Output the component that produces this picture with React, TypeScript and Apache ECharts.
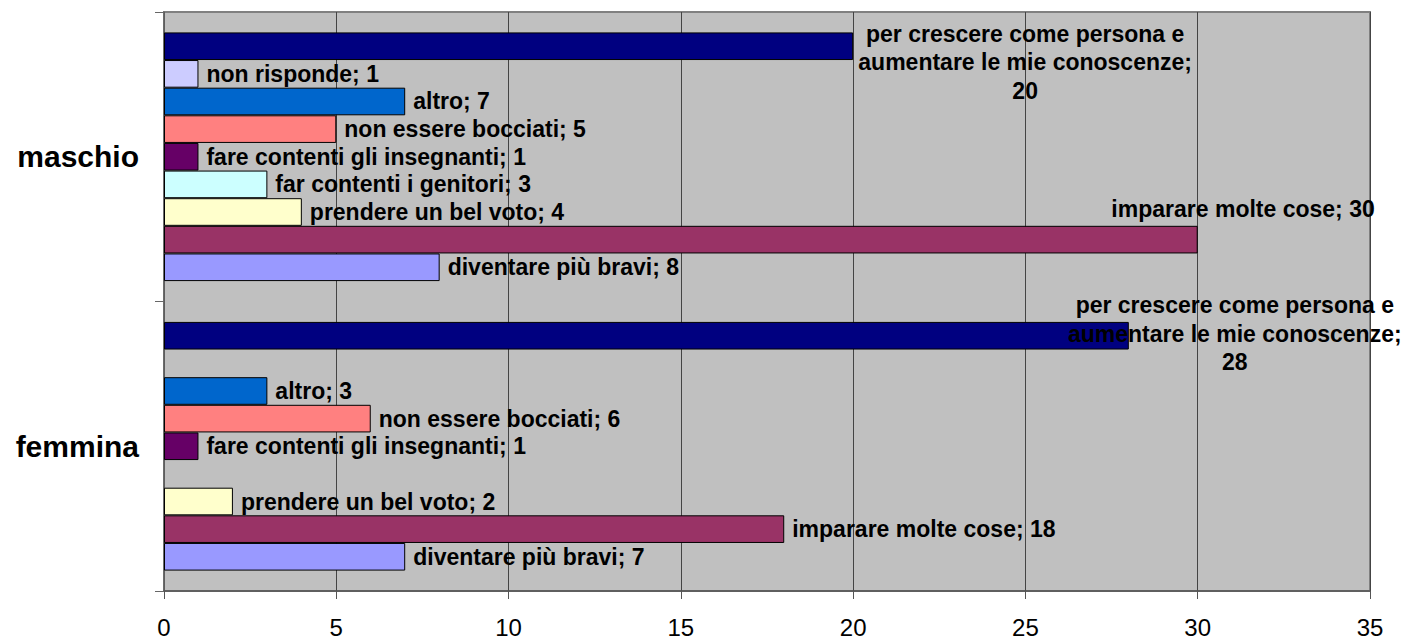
import React, { useEffect, useRef } from "react";
import * as echarts from "echarts";

const categories = ["femmina", "maschio"];
const seriesNames = [
  "diventare più bravi",
  "imparare molte cose",
  "prendere un bel voto",
  "far contenti i genitori",
  "fare contenti gli insegnanti",
  "non essere bocciati",
  "altro",
  "non risponde",
  "per crescere come persona e aumentare le mie conoscenze",
];
const femminaValues: (number | null)[] = [7, 18, 2, null, 1, 6, 3, null, 28];
const maschioValues: (number | null)[] = [8, 30, 4, 3, 1, 5, 7, 1, 20];
const colors = [
  "#9999FF",
  "#993366",
  "#FFFFCC",
  "#CCFFFF",
  "#660066",
  "#FF8080",
  "#0066CC",
  "#CCCCFF",
  "#000080",
];
const xTicks = [0, 5, 10, 15, 20, 25, 30, 35];

const FONT = 'Arial, "Liberation Sans", sans-serif';

// special label placements (series index, category index) -> label overrides
const specialLabels: Record<string, any> = {
  "8-1": { align: "center", offset: [164, 16] },
  "8-0": { align: "center", offset: [98, -2] },
  "1-1": { align: "right", offset: [169, -31] },
};

function labelText(name: string, value: number) {
  if (name.indexOf(" aumentare") >= 0) {
    return name.replace(" aumentare", "\naumentare") + ";\n" + value;
  }
  return name + "; " + value;
}

export default function App() {
  const ref = useRef<HTMLDivElement>(null);

  useEffect(() => {
    if (!ref.current) return;
    const chart = echarts.init(ref.current, undefined, { renderer: "svg" });

    // ECharts places horizontal bar series top-down, so add them in reverse
    const order = seriesNames.map((_, i) => seriesNames.length - 1 - i);
    const series = order.map((si) => {
      const name = seriesNames[si];
      const vals = [femminaValues[si], maschioValues[si]];
      return {
        type: "bar",
        name,
        barGap: "0%",
        barCategoryGap: "14.1%",
        itemStyle: { color: colors[si], borderColor: "#000", borderWidth: 1 },
        label: {
          show: true,
          position: "right",
          distance: 8,
          fontFamily: FONT,
          fontSize: 23,
          fontWeight: "bold",
          color: "#000",
          lineHeight: 28.5,
          formatter: (p: any) => labelText(p.seriesName, p.value),
        },
        data: vals.map((v, ci) => {
          if (v === null) return "-";
          const sp = specialLabels[si + "-" + ci];
          return sp ? { value: v, label: sp } : v;
        }),
      };
    });

    chart.setOption({
      animation: false,
      grid: {
        left: 164,
        right: 37,
        top: 12,
        bottom: 47,
        show: true,
        backgroundColor: "#C0C0C0",
        borderColor: "#808080",
        borderWidth: 2,
      },
      xAxis: {
        type: "value",
        min: xTicks[0],
        max: xTicks[xTicks.length - 1],
        interval: 5,
        axisLine: { show: true, lineStyle: { color: "#555", width: 1.5 } },
        axisTick: { show: true, length: 8, lineStyle: { color: "#555" } },
        splitLine: { show: true, lineStyle: { color: "#444", width: 1 } },
        axisLabel: {
          fontFamily: FONT,
          fontSize: 24,
          color: "#000",
          margin: 24,
        },
      },
      yAxis: {
        type: "category",
        data: categories,
        axisLine: { show: true, lineStyle: { color: "#666", width: 1.5 } },
        axisTick: { show: true, length: 9, lineStyle: { color: "#666" } },
        axisLabel: {
          fontFamily: FONT,
          fontSize: 30,
          fontWeight: "bold",
          color: "#000",
          margin: 25,
        },
      },
      series,
    });

    return () => chart.dispose();
  }, []);

  return (
    <div
      ref={ref}
      style={{ position: "fixed", left: 0, top: 0, width: 1407, height: 639, background: "#fff" }}
    />
  );
}
